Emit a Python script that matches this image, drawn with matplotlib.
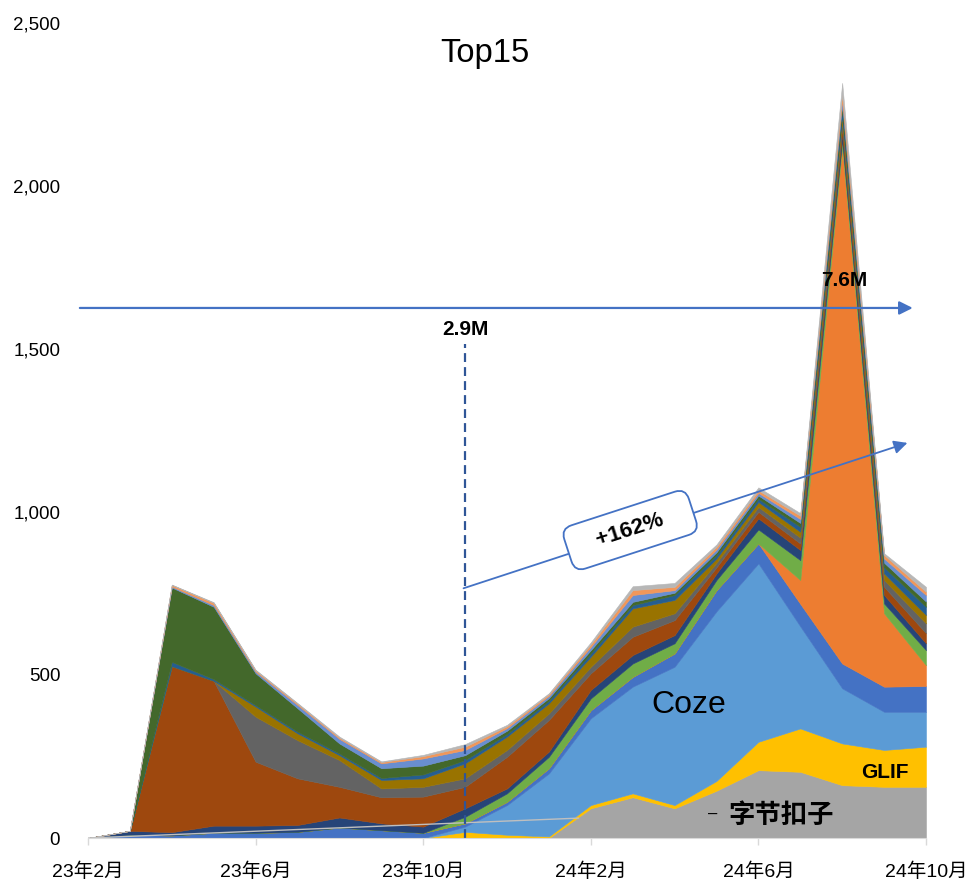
import numpy as np
import matplotlib
matplotlib.use('Agg')
import matplotlib.pyplot as plt

plt.rcParams['font.family'] = ['Liberation Sans', 'Noto Sans CJK SC']

# months Feb 2023 .. Oct 2024
months = np.arange(21)
tick_pos = [0, 4, 8, 12, 16, 20]
tick_labels = ['23年2月', '23年6月', '23年10月', '24年2月', '24年6月', '24年10月']
y_ticks = [0, 500, 1000, 1500, 2000, 2500]

# stacked series, bottom to top
bytedance = [0, 0, 0, 0, 0, 0, 0, 0, 0, 0, 0, 0, 91, 125, 91, 145, 208, 203, 162, 157, 157]
glif = [0, 0, 0, 0, 0, 0, 0, 0, 0, 19, 10, 5, 10, 12, 10, 30, 87, 133, 128, 113, 123]
coze = [0, 0, 0, 0, 0, 0, 0, 0, 0, 16, 91, 193, 266, 327, 424, 520, 547, 313, 169, 117, 107]
s4 = [0, 10, 8, 16, 16, 19, 32, 24, 16, 10, 10, 16, 25, 30, 41, 65, 61, 69, 76, 77, 79]
s5 = [0, 0, 0, 0, 0, 0, 0, 0, 0, 0, 0, 0, 0, 0, 0, 0, 0, 73, 1585, 225, 64]
s6 = [0, 0, 0, 0, 0, 0, 0, 0, 0, 20, 26, 35, 36, 41, 31, 31, 43, 61, 20, 30, 46]
s7 = [0, 12, 10, 22, 22, 21, 31, 21, 19, 26, 15, 16, 26, 26, 25, 20, 34, 31, 20, 26, 21]
s8 = [0, 0, 509, 444, 196, 143, 94, 80, 92, 66, 97, 97, 51, 56, 46, 19, 20, 20, 18, 25, 31]
s9 = [0, 0, 0, 0, 138, 117, 82, 27, 30, 26, 21, 20, 20, 31, 21, 14, 15, 18, 18, 21, 30]
s10 = [0, 0, 0, 0, 31, 21, 15, 26, 26, 46, 41, 31, 31, 56, 41, 13, 15, 18, 18, 20, 26]
s11 = [0, 0, 13, 5, 4, 5, 5, 6, 12, 10, 8, 8, 10, 10, 15, 10, 10, 15, 16, 19, 25]
s12 = [0, 0, 228, 222, 98, 72, 31, 30, 27, 15, 10, 8, 10, 10, 7, 9, 10, 12, 16, 14, 16]
s13 = [0, 0, 3, 5, 5, 10, 14, 15, 22, 16, 8, 7, 10, 21, 8, 9, 8, 12, 16, 13, 20]
s14 = [0, 0, 5, 7, 4, 4, 4, 4, 7, 10, 6, 5, 8, 15, 10, 8, 8, 10, 18, 11, 10]
s15 = [0, 0, 1, 2, 2, 2, 3, 2, 4, 8, 4, 3, 6, 12, 12, 7, 9, 8, 35, 5, 15]

series = [bytedance, glif, coze, s4, s5, s6, s7, s8, s9, s10, s11, s12, s13, s14, s15]
colors = ['#A5A5A5', '#FFC000', '#5B9BD5', '#4472C4', '#ED7D31', '#70AD47',
          '#264478', '#9E480E', '#636363', '#997300', '#255E91', '#43682B',
          '#698ED0', '#F1975A', '#B7B7B7']

# thin grey line running along the bottom
edge_x = [0, 11.7]
edge_y = [0, 61]

fig = plt.figure(figsize=(9.69, 8.84), dpi=100)
ax = fig.add_axes([0.0908, 0.052, 0.8648, 0.9225])

base = np.zeros(len(months))
for vals, c in zip(series, colors):
    top = base + np.array(vals, dtype=float)
    ax.fill_between(months, base, top, facecolor=c, edgecolor=c, linewidth=0.4)
    base = top

ax.plot(edge_x, edge_y, color='#BFBFBF', lw=1.0)

ax.set_xlim(0, 20)
ax.set_ylim(0, 2500)
ax.set_xticks(tick_pos)
ax.set_xticklabels(tick_labels, fontsize=14)
ax.set_yticks(y_ticks)
ax.set_yticklabels(['{:,}'.format(v) for v in y_ticks], fontsize=13.5)
ax.tick_params(axis='y', length=0, pad=20)
ax.tick_params(axis='x', length=5, width=1, color='#D9D9D9', pad=13)
for s in ['top', 'right', 'left']:
    ax.spines[s].set_visible(False)
ax.spines['bottom'].set_color('#D9D9D9')

blue = '#4472C4'
# horizontal arrow
ax.annotate('', xy=(19.75, 1625), xytext=(-0.26, 1625),
            arrowprops=dict(arrowstyle='-|>', color=blue, lw=1.6, mutation_scale=20),
            annotation_clip=False)
# sloped arrow
ax.annotate('', xy=(19.62, 1214), xytext=(8.9, 763),
            arrowprops=dict(arrowstyle='-|>', color=blue, lw=1.3, mutation_scale=20))
# dashed marker at Nov 2023
ax.plot([9, 9], [0, 1515], color='#2F5597', lw=1.6, linestyle=(0, (4, 2.3)))

ax.text(9.0, 1560, '2.9M', ha='center', va='center', fontsize=15, fontweight='bold')
ax.text(18.05, 1708, '7.6M', ha='center', va='center', fontsize=15, fontweight='bold')

ax.text(12.94, 944, '   +162%   ', ha='center', va='center', fontsize=16,
        fontweight='bold', rotation=18, rotation_mode='anchor', zorder=5,
        bbox=dict(boxstyle='round,pad=0.55,rounding_size=0.5', fc='white', ec=blue, lw=1.3))

ax.text(14.34, 408, 'Coze', ha='center', va='center', fontsize=23)
ax.text(19.02, 202, 'GLIF', ha='center', va='center', fontsize=15, fontweight='bold')
ax.text(16.54, 70, '字节扣子', ha='center', va='center', fontsize=19, fontweight='bold')
ax.text(14.92, 72, '–', ha='center', va='center', fontsize=12)

fig.text(0.5005, 0.939, 'Top15', ha='center', va='center', fontsize=23.5)

fig.savefig('out.png', dpi=100)
